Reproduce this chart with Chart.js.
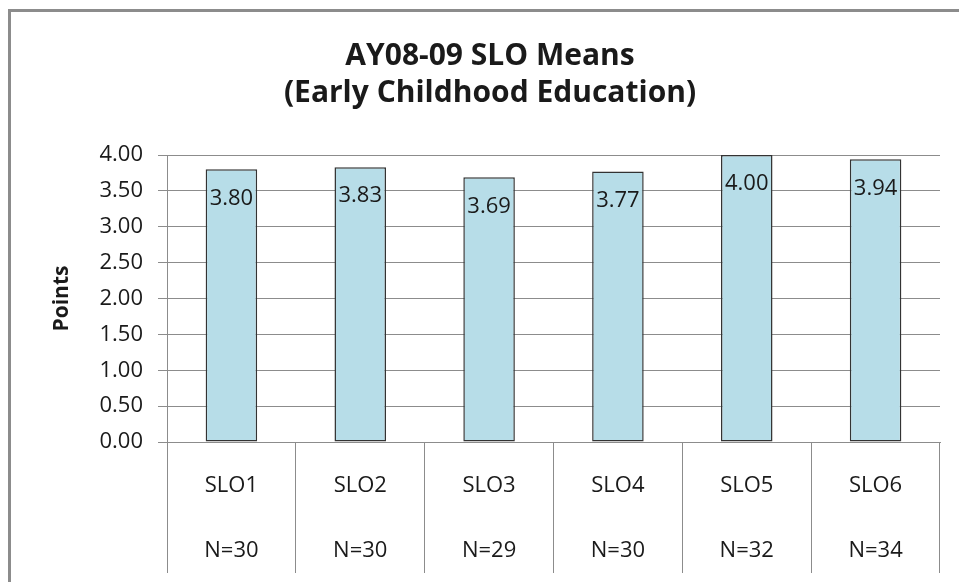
<!DOCTYPE html>
<html>
<head>
<meta charset="utf-8">
<script src="https://cdn.jsdelivr.net/npm/chart.js@4/dist/chart.umd.min.js"></script>
<style>
  html, body { margin: 0; padding: 0; background: #fff; overflow: hidden; }
  #wrap { position: relative; width: 959px; height: 582px; overflow: hidden; }
  #frame { position: absolute; left: 8px; top: 9px; width: 2000px; height: 2000px;
           border-left: 3px solid #8c8c8c; border-top: 3px solid #8c8c8c; pointer-events: none; }
  canvas { position: absolute; left: 0; top: 0; }
</style>
</head>
<body>
<div id="wrap">
  <div id="frame"></div>
  <canvas id="c" width="959" height="582"></canvas>
</div>
<script>
// ---- data ----
const categories = ['SLO1', 'SLO2', 'SLO3', 'SLO4', 'SLO5', 'SLO6'];
const counts = ['N=30', 'N=30', 'N=29', 'N=30', 'N=32', 'N=34'];
const means = [3.80, 3.83, 3.69, 3.77, 4.00, 3.94];
const titleLines = ['AY08-09 SLO Means', '(Early Childhood Education)'];
const yAxisTitle = 'Points';
const yMin = 0, yMax = 4, yStep = 0.5;

const labels = categories.map((c, i) => [c, counts[i]]);
const FONT = "'Open Sans', 'DejaVu Sans', sans-serif";
const GRID = '#8c8c8c';
const TEXT = '#1a1a1a';

const valueLabels = {
  id: 'valueLabels',
  afterDatasetsDraw(chart) {
    const ctx = chart.ctx;
    const meta = chart.getDatasetMeta(0);
    ctx.save();
    ctx.font = "22px " + FONT;
    ctx.fillStyle = TEXT;
    ctx.textAlign = 'center';
    ctx.textBaseline = 'middle';
    meta.data.forEach((bar, i) => {
      ctx.fillText(means[i].toFixed(2), bar.x, bar.y + 29);
    });
    ctx.restore();
  }
};

new Chart(document.getElementById('c'), {
  type: 'bar',
  data: {
    labels: labels,
    datasets: [{
      data: means,
      backgroundColor: '#b7dde8',
      borderColor: '#333333',
      borderWidth: 1.5,
      borderSkipped: false,
      barPercentage: 0.4,
      categoryPercentage: 1.0
    }]
  },
  plugins: [valueLabels],
  options: {
    responsive: false,
    animation: false,
    devicePixelRatio: 1,
    layout: { padding: { left: 40, right: 19, top: 0, bottom: 0 } },
    plugins: {
      legend: { display: false },
      tooltip: { enabled: false },
      title: {
        display: true,
        text: titleLines,
        color: TEXT,
        font: { family: FONT, size: 30, weight: 'bold', lineHeight: 37 / 30 },
        padding: { top: 38, bottom: 43 }
      }
    },
    scales: {
      x: {
        grid: { offset: true, drawOnChartArea: false, color: GRID, tickLength: 131, lineWidth: 1 },
        border: { display: true, color: GRID },
        ticks: {
          color: TEXT,
          font: { family: FONT, size: 22, lineHeight: 65 / 22 },
          padding: -120,
          maxRotation: 0,
          autoSkip: false
        },
        afterFit(scale) { scale.height = 140; }
      },
      y: {
        min: yMin, max: yMax,
        grid: { color: GRID, tickLength: 9, lineWidth: 1 },
        border: { display: true, color: GRID },
        ticks: {
          stepSize: yStep,
          color: TEXT,
          font: { family: FONT, size: 22 },
          padding: 15,
          callback: (v) => Number(v).toFixed(2)
        },
        title: {
          display: true,
          text: yAxisTitle,
          color: TEXT,
          font: { family: FONT, size: 21, weight: 'bold' },
          padding: { top: 9, bottom: 0 }
        },
        afterFit(scale) { scale.width = 127; }
      }
    }
  }
});
</script>
</body>
</html>
